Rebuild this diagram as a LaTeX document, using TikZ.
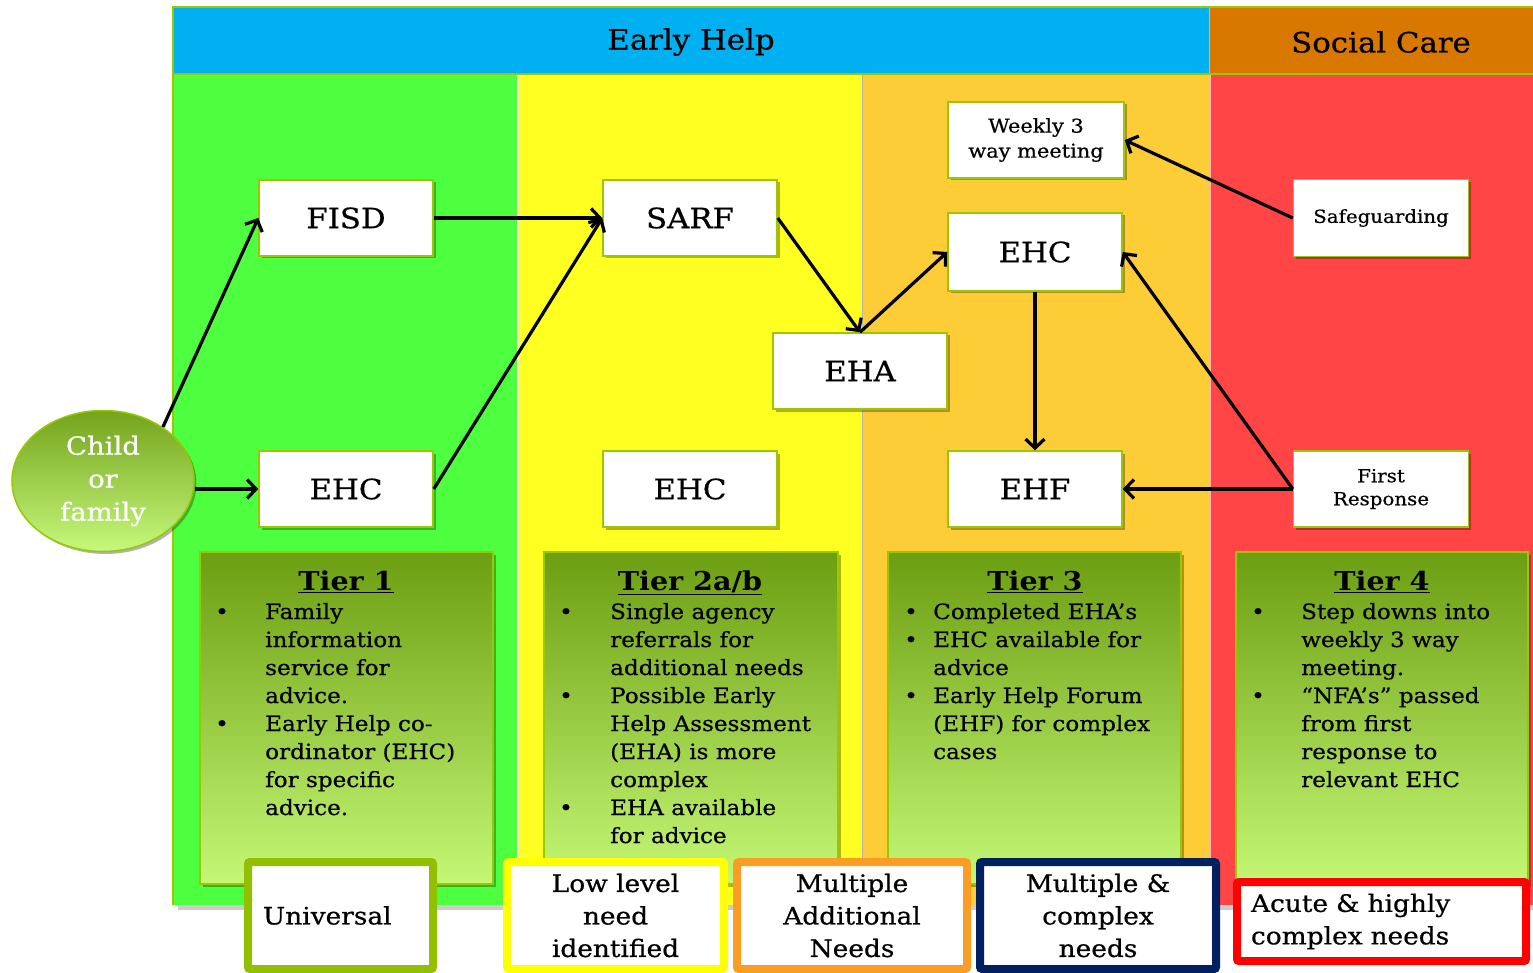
\documentclass[tikz,border=0pt]{standalone}
\usepackage{fontspec}
\setmainfont{DejaVu Serif}[FakeStretch=1.1,UprightFeatures={FakeBold=0.6}]
\usetikzlibrary{arrows.meta,shadows,shapes.geometric}
\definecolor{hblue}{HTML}{00B0F0}
\definecolor{horange}{HTML}{D87800}
\definecolor{colgreen}{HTML}{4EFF40}
\definecolor{colyellow}{HTML}{FFFF22}
\definecolor{colamber}{HTML}{FDCD37}
\definecolor{colred}{HTML}{FF4545}
\definecolor{lime}{HTML}{99C800}
\definecolor{tiertop}{HTML}{6C9E12}
\definecolor{tierbot}{HTML}{C4F775}
\definecolor{childtop}{HTML}{74A41C}
\definecolor{childbot}{HTML}{C6F87C}
\definecolor{univgreen}{HTML}{92C000}
\definecolor{lowyellow}{HTML}{FFFF00}
\definecolor{maorange}{HTML}{F99D25}
\definecolor{navy}{HTML}{002060}
\definecolor{acutered}{HTML}{FF0000}
\begin{document}
\begin{tikzpicture}[x=1pt,y=-1pt,
  shadowed/.style={drop shadow={shadow xshift=2.5pt,shadow yshift=-2.5pt,opacity=0.3,fill=black}},
  box/.style={draw=lime,line width=1.5pt,fill=white,minimum width=174pt,minimum height=76pt,
    inner sep=0pt,shadowed,font=\fontsize{28}{30}\selectfont},
  smallbox/.style={box,align=center},
  arr/.style={line width=3.2pt,-{Straight Barb[length=9pt,width=19pt]}},
  tierbox/.style={draw=lime,line width=1.5pt,top color=tiertop,bottom color=tierbot,shadowed},
  tiertxt/.style={inner sep=0pt,font=\fontsize{21}{28}\selectfont},
  tierhead/.style={inner sep=0pt,font=\fontsize{26}{30}\selectfont\bfseries},
  bbox/.style={fill=white,line width=8pt,rounded corners=2pt,font=\fontsize{24}{32.5}\selectfont,align=center,inner sep=0pt},
  outer/.style={draw=lime,line width=2.5pt}
]
\useasboundingbox (0,0) rectangle (1533,973);
% columns
\fill[black!20] (178,905) rectangle (1533,910);
\fill[colgreen] (174,75) rectangle (517,905);
\fill[colyellow] (517,75) rectangle (862,905);
\fill[colamber] (862,75) rectangle (1209,905);
\fill[colred] (1209,75) rectangle (1533,905);
\draw[white!70!colyellow,line width=1.5pt] (518,75) -- (518,905);
\draw[black!30,line width=1pt] (862,75) -- (862,905);
\draw[white!60!colred,line width=1.5pt] (1210,75) -- (1210,905);
% header
\fill[hblue] (174,8) rectangle (1209,73);
\fill[horange] (1209,8) rectangle (1533,73);
\draw[black!25,line width=1pt] (1209,8) -- (1209,73);
\draw[outer] (173,905) -- (173,7) -- (1540,7);
\draw[outer] (173,74) -- (1540,74);
\node[font=\fontsize{28}{30}\selectfont] (eh) at (691,42) {Early Help};
\node[font=\fontsize{28}{30}\selectfont] (sc) at (1381,42) {Social Care};
% tier boxes
\draw[tierbox] (200,552) rectangle (493,884);
\draw[tierbox] (544,552) rectangle (838,884);
\draw[tierbox] (888,552) rectangle (1181,884);
\draw[tierbox] (1236,552) rectangle (1528,884);
\node[tierhead,anchor=base] (h1) at (346,590) {\underline{Tier 1}};
\node[tierhead,anchor=base] (h2) at (690,590) {\underline{Tier 2a/b}};
\node[tierhead,anchor=base] (h3) at (1035,590) {\underline{Tier 3}};
\node[tierhead,anchor=base] (h4) at (1382,590) {\underline{Tier 4}};
\node[tiertxt,anchor=base west] (t1) at (215,619) {\begin{tabular}[t]{@{}p{50pt}@{}l@{}}
\textbullet & Family\\
 & information\\
 & service for\\
 & advice.\\
\textbullet & Early Help co-\\
 & ordinator (EHC)\\
 & for specific\\
 & advice.
\end{tabular}};
\node[tiertxt,anchor=base west] (t2) at (559,619) {\begin{tabular}[t]{@{}p{51pt}@{}l@{}}
\textbullet & Single agency\\
 & referrals for\\
 & additional needs\\
\textbullet & Possible Early\\
 & Help Assessment\\
 & (EHA) is more\\
 & complex\\
\textbullet & EHA available\\
 & for advice
\end{tabular}};
\node[tiertxt,anchor=base west] (t3) at (904,619) {\begin{tabular}[t]{@{}p{29pt}@{}l@{}}
\textbullet & Completed EHA’s\\
\textbullet & EHC available for\\
 & advice\\
\textbullet & Early Help Forum\\
 & (EHF) for complex\\
 & cases
\end{tabular}};
\node[tiertxt,anchor=base west] (t4) at (1251,619) {\begin{tabular}[t]{@{}p{50pt}@{}l@{}}
\textbullet & Step downs into\\
 & weekly 3 way\\
 & meeting.\\
\textbullet & “NFA’s” passed\\
 & from first\\
 & response to\\
 & relevant EHC
\end{tabular}};
% bottom boxes
\node[bbox,draw=univgreen,minimum width=185pt,minimum height=107pt,text width=155pt,align=left] (univ) at (340.5,915.5) {Universal};
\node[bbox,draw=lowyellow,minimum width=217pt,minimum height=107pt] (low) at (615.5,915.5) {Low level\\need\\identified};
\node[bbox,draw=maorange,minimum width=230pt,minimum height=107pt] (mult) at (852,915.5) {Multiple\\Additional\\Needs};
\node[bbox,draw=navy,minimum width=236pt,minimum height=107pt] (mcx) at (1098,915.5) {Multiple \&\\complex\\needs};
\node[bbox,draw=acutered,minimum width=289pt,minimum height=79pt,text width=261pt,align=left] (acute) at (1381.5,921.5) {Acute \& highly\\complex needs};
% flow nodes
\node[ellipse,draw=lime,line width=1.5pt,top color=childtop,bottom color=childbot,minimum width=182pt,minimum height=141pt,
  inner sep=0pt,text=white,align=center,font=\fontsize{25}{33}\selectfont,shadowed] (child) at (103,481) {Child\\or\\family};
\node[box] (fisd) at (346,218) {FISD};
\node[box] (sarf) at (690,218) {SARF};
\node[box] (ehc1) at (346,489) {EHC};
\node[box] (ehc2) at (690,489) {EHC};
\node[box] (eha) at (860,371) {EHA};
\node[box,minimum height=78pt] (ehc3) at (1035,252) {EHC};
\node[box] (ehf) at (1035,489) {EHF};
\node[smallbox,minimum width=176pt,font=\fontsize{19}{25}\selectfont] (weekly) at (1036,140) {Weekly 3\\way meeting};
\node[box,minimum width=175pt,minimum height=77pt,font=\fontsize{18}{23}\selectfont] (safe) at (1381,218) {Safeguarding};
\node[smallbox,minimum width=175pt,font=\fontsize{18}{23}\selectfont] (fr) at (1381,489) {First\\Response};
% connectors
\draw[arr] (child.42) -- (fisd.west);
\draw[arr] (ehc1.west -| child.east) -- (ehc1.west);
\draw[arr] (fisd.east) -- (sarf.west);
\draw[arr] (ehc1.east) -- (sarf.west);
\draw[arr] (sarf.east) -- (eha.north);
\draw[arr] (eha.north) -- (ehc3.west);
\draw[arr] (ehc3.south) -- (ehf.north);
\draw[arr] (fr.west) -- (ehf.east);
\draw[arr] (fr.west) -- (ehc3.east);
\draw[arr] (safe.west) -- (weekly.east);
\end{tikzpicture}
\end{document}
